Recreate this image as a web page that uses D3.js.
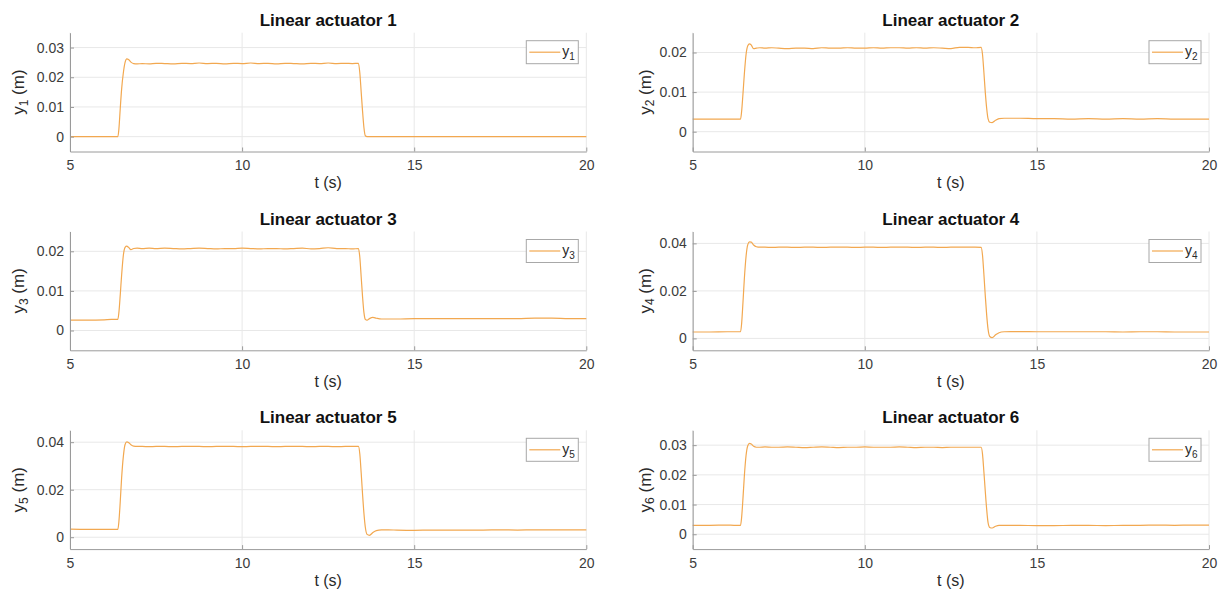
<!DOCTYPE html>
<html>
<head>
<meta charset="utf-8">
<script src="https://cdn.jsdelivr.net/npm/d3@7"></script>
<style>
  html, body { margin: 0; padding: 0; background: #ffffff; }
  svg { display: block; }
  text { font-family: "Liberation Sans", Arial, Helvetica, sans-serif; }
</style>
</head>
<body>
<svg id="chart" width="1222" height="596"></svg>
<script>
// Simulation time (s), shared by all six actuator responses
const t = [5, 5.5, 6, 6.2, 6.39, 6.42, 6.46, 6.5, 6.55, 6.6, 6.65, 6.7, 6.77, 6.85, 6.95,
  7.1, 7.3, 7.5, 7.75, 8, 8.25, 8.5, 8.75, 9, 9.25, 9.5, 9.75, 10, 10.25, 10.5, 10.75,
  11, 11.25, 11.5, 11.75, 12, 12.25, 12.5, 12.75, 13, 13.2, 13.38, 13.42, 13.46, 13.5,
  13.54, 13.58, 13.63, 13.7, 13.8, 13.9, 14.05, 14.25, 14.5, 15, 15.5, 16, 16.5, 17,
  17.5, 18, 18.5, 19, 19.5, 20];

// Actuator displacements (m)
const y1 = [0, 0, 0, 0, 0, 0.0025, 0.0095, 0.0160, 0.0215, 0.0250, 0.0262, 0.0260, 0.0251, 0.0246, 0.0245,
  0.0246, 0.0245, 0.0247, 0.0246, 0.0245, 0.0247, 0.0246, 0.0248, 0.0246, 0.0247, 0.0245, 0.0247, 0.0246, 0.0248, 0.0246, 0.0247,
  0.0245, 0.0247, 0.0246, 0.0245, 0.0247, 0.0246, 0.0248, 0.0246, 0.0247, 0.0246, 0.0247, 0.0215, 0.0150, 0.0085,
  0.0030, 0.0003, 0, 0, 0, 0, 0, 0, 0, 0, 0, 0, 0, 0,
  0, 0, 0, 0, 0, 0];

const y2 = [0.0032, 0.0032, 0.0032, 0.0032, 0.0032, 0.0050, 0.0095, 0.0145, 0.0195, 0.0217, 0.0222, 0.0219, 0.0210, 0.0211, 0.0212,
  0.0211, 0.0212, 0.0211, 0.0210, 0.0211, 0.0211, 0.0210, 0.0212, 0.0211, 0.0211, 0.0212, 0.0211, 0.0211, 0.0212, 0.0211, 0.0212,
  0.0212, 0.0211, 0.0212, 0.0211, 0.0212, 0.0211, 0.0210, 0.0213, 0.0213, 0.0212, 0.0213, 0.0195, 0.0150, 0.0100,
  0.0060, 0.0033, 0.0024, 0.0023, 0.0029, 0.0033, 0.0034, 0.0034, 0.0034, 0.0033, 0.0033, 0.0032, 0.0033, 0.0032,
  0.0033, 0.0032, 0.0033, 0.0032, 0.0032, 0.0032];

const y3 = [0.0026, 0.0026, 0.0027, 0.0028, 0.0028, 0.0045, 0.0090, 0.0140, 0.0190, 0.0210, 0.0213, 0.0210, 0.0204, 0.0207, 0.0208,
  0.0207, 0.0208, 0.0207, 0.0208, 0.0207, 0.0206, 0.0207, 0.0208, 0.0207, 0.0206, 0.0207, 0.0207, 0.0208, 0.0207, 0.0206, 0.0207,
  0.0207, 0.0206, 0.0207, 0.0208, 0.0206, 0.0207, 0.0209, 0.0207, 0.0207, 0.0206, 0.0207, 0.0185, 0.0135, 0.0085,
  0.0045, 0.0028, 0.0026, 0.0030, 0.0033, 0.0031, 0.0029, 0.0029, 0.0029, 0.0030, 0.0030, 0.0030, 0.0030, 0.0030,
  0.0030, 0.0030, 0.0031, 0.0031, 0.0030, 0.0030];

const y4 = [0.0027, 0.0027, 0.0028, 0.0028, 0.0028, 0.0060, 0.0150, 0.0250, 0.0345, 0.0395, 0.0406, 0.0405, 0.0393, 0.0386, 0.0384,
  0.0384, 0.0383, 0.0384, 0.0384, 0.0383, 0.0384, 0.0384, 0.0383, 0.0384, 0.0384, 0.0384, 0.0383, 0.0384, 0.0384, 0.0383, 0.0384,
  0.0384, 0.0384, 0.0383, 0.0384, 0.0384, 0.0383, 0.0384, 0.0384, 0.0384, 0.0384, 0.0383, 0.0350, 0.0270, 0.0180,
  0.0100, 0.0040, 0.0008, 0.0003, 0.0015, 0.0024, 0.0028, 0.0029, 0.0029, 0.0028, 0.0028, 0.0028, 0.0028, 0.0028,
  0.0027, 0.0028, 0.0028, 0.0027, 0.0027, 0.0027];

const y5 = [0.0034, 0.0033, 0.0033, 0.0033, 0.0033, 0.0065, 0.0150, 0.0250, 0.0340, 0.0390, 0.0401, 0.0399, 0.0389, 0.0383, 0.0382,
  0.0382, 0.0381, 0.0382, 0.0382, 0.0381, 0.0382, 0.0382, 0.0382, 0.0381, 0.0382, 0.0382, 0.0382, 0.0381, 0.0382, 0.0382, 0.0382,
  0.0381, 0.0382, 0.0382, 0.0382, 0.0381, 0.0382, 0.0382, 0.0381, 0.0382, 0.0382, 0.0382, 0.0350, 0.0270, 0.0180,
  0.0100, 0.0042, 0.0012, 0.0008, 0.0020, 0.0028, 0.0031, 0.0031, 0.0030, 0.0029, 0.0030, 0.0030, 0.0030, 0.0030,
  0.0031, 0.0030, 0.0031, 0.0031, 0.0031, 0.0031];

const y6 = [0.0030, 0.0030, 0.0031, 0.0030, 0.0030, 0.0055, 0.0120, 0.0195, 0.0265, 0.0298, 0.0306, 0.0304, 0.0296, 0.0293, 0.0293,
  0.0294, 0.0293, 0.0293, 0.0294, 0.0293, 0.0292, 0.0293, 0.0294, 0.0293, 0.0292, 0.0293, 0.0293, 0.0294, 0.0293, 0.0293, 0.0293,
  0.0294, 0.0293, 0.0292, 0.0293, 0.0293, 0.0292, 0.0293, 0.0293, 0.0293, 0.0293, 0.0293, 0.0270, 0.0210, 0.0145,
  0.0085, 0.0040, 0.0023, 0.0021, 0.0027, 0.0030, 0.0030, 0.0030, 0.0030, 0.0029, 0.0029, 0.0030, 0.0030, 0.0029,
  0.0030, 0.0030, 0.0031, 0.0030, 0.0031, 0.0031];

const titles = ["Linear actuator 1", "Linear actuator 2", "Linear actuator 3",
                "Linear actuator 4", "Linear actuator 5", "Linear actuator 6"];
const subscripts = ["1", "2", "3", "4", "5", "6"];
const xTicks = [5, 10, 15, 20];
const yTicks1 = [0, 0.01, 0.02, 0.03];
const yTicks2 = [0, 0.01, 0.02];
const yTicks3 = [0, 0.01, 0.02];
const yTicks4 = [0, 0.02, 0.04];
const yTicks5 = [0, 0.02, 0.04];
const yTicks6 = [0, 0.01, 0.02, 0.03];

const series = [y1, y2, y3, y4, y5, y6];
const yTickSets = [yTicks1, yTicks2, yTicks3, yTicks4, yTicks5, yTicks6];

// Layout of the 3x2 grid of axes
const colLeft = [70, 692.7];
const rowTop = [32.7, 231.5, 430.3];
const plotW = 516.3;
const plotH = 118.8;

const lineColor = "#f2a850";
const axisColor = "#9a9a9a";
const gridColor = "#e8e8e8";
const tickTextColor = "#3c3c3c";

const svg = d3.select("#chart");
svg.append("rect").attr("width", 1222).attr("height", 596).attr("fill", "#ffffff");

const fmt = d => d === 0 ? "0" : d3.format(".2f")(d);

series.forEach((vals, i) => {
  const col = i % 2, row = Math.floor(i / 2);
  const left = colLeft[col], top = rowTop[row];
  const ticks = yTickSets[i];
  const yMax = d3.max(ticks) + 0.005;

  const x = d3.scaleLinear().domain([5, 20]).range([0, plotW]);
  const y = d3.scaleLinear().domain([-0.005, yMax]).range([plotH, 0]);

  const g = svg.append("g").attr("transform", `translate(${left},${top})`);

  // grid
  g.append("g").selectAll("line").data(xTicks).join("line")
    .attr("x1", d => x(d)).attr("x2", d => x(d))
    .attr("y1", 0).attr("y2", plotH)
    .attr("stroke", gridColor).attr("stroke-width", 1);
  g.append("g").selectAll("line").data(ticks).join("line")
    .attr("x1", 0).attr("x2", plotW)
    .attr("y1", d => y(d)).attr("y2", d => y(d))
    .attr("stroke", gridColor).attr("stroke-width", 1);

  // response curve
  const line = d3.line()
    .x((d, k) => x(t[k]))
    .y(d => y(d))
    .curve(d3.curveMonotoneX);
  g.append("path").datum(vals)
    .attr("d", line)
    .attr("fill", "none")
    .attr("stroke", lineColor)
    .attr("stroke-width", 1.2);

  // axes
  const xAxis = d3.axisBottom(x).tickValues(xTicks).tickSizeInner(-4).tickSizeOuter(0).tickPadding(9);
  const gx = g.append("g").attr("transform", `translate(0,${plotH})`).call(xAxis);
  const yAxis = d3.axisLeft(y).tickValues(ticks).tickFormat(fmt).tickSizeInner(-4).tickSizeOuter(0).tickPadding(6);
  const gy = g.append("g").call(yAxis);
  [gx, gy].forEach(a => {
    a.select(".domain").attr("stroke", axisColor);
    a.selectAll(".tick line").attr("stroke", axisColor);
    a.selectAll(".tick text").attr("fill", tickTextColor).style("font-size", "14px");
  });

  // title
  g.append("text")
    .attr("x", plotW / 2).attr("y", -7)
    .attr("text-anchor", "middle")
    .style("font-size", "17px").style("font-weight", "bold")
    .attr("fill", "#111111")
    .text(titles[i]);

  // x label
  g.append("text")
    .attr("x", plotW / 2).attr("y", plotH + 37)
    .attr("text-anchor", "middle")
    .style("font-size", "16px")
    .attr("fill", "#2a2a2a")
    .text("t (s)");

  // y label with subscript
  const yl = g.append("text")
    .attr("transform", `translate(${col === 0 ? -52 : -48},${plotH / 2}) rotate(-90)`)
    .attr("text-anchor", "middle")
    .attr("dy", "0.35em")
    .style("font-size", "17px")
    .attr("fill", "#2a2a2a");
  yl.append("tspan").text("y");
  yl.append("tspan").attr("dy", "0.3em").style("font-size", "12px").text(subscripts[i]);
  yl.append("tspan").attr("dy", "-0.2em").text(" (m)");

  // legend
  const bw = 52, bh = 23;
  const bx = plotW - 8 - bw, by = 8;
  const lg = g.append("g").attr("transform", `translate(${bx},${by})`);
  lg.append("rect").attr("width", bw).attr("height", bh)
    .attr("fill", "#ffffff").attr("stroke", "#a8a8a8").attr("stroke-width", 1);
  lg.append("line").attr("x1", 3).attr("x2", 34).attr("y1", bh / 2).attr("y2", bh / 2)
    .attr("stroke", lineColor).attr("stroke-width", 1.2);
  const lt = lg.append("text").attr("x", 36).attr("y", bh / 2 + 4)
    .style("font-size", "14px").attr("fill", "#2a2a2a");
  lt.append("tspan").text("y");
  lt.append("tspan").attr("dy", "4").style("font-size", "10px").text(subscripts[i]);
});
</script>
</body>
</html>
